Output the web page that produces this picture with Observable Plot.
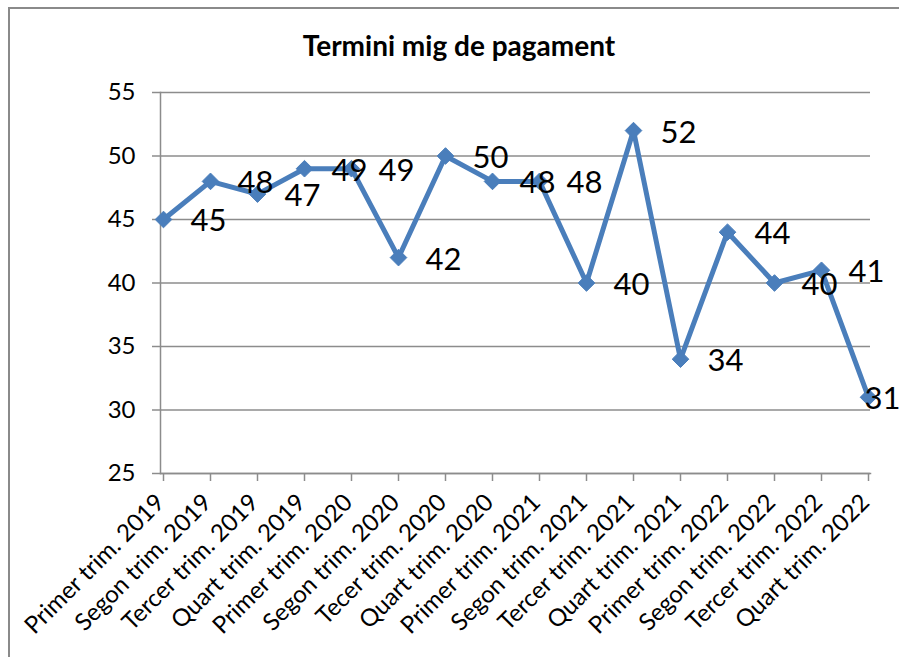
<!DOCTYPE html>
<html>
<head>
<meta charset="utf-8">
<script src="https://cdn.jsdelivr.net/npm/d3@7"></script>
<script src="https://cdn.jsdelivr.net/npm/@observablehq/plot@0.6"></script>
<style>
  html, body { margin: 0; padding: 0; background: #fff; }
  #wrap { position: relative; width: 899px; height: 657px; overflow: hidden; font-family: Lato, "Open Sans", sans-serif; }
  #frame { position: absolute; left: 8px; top: 7px; width: 960px; height: 720px; border: 2px solid #8a8a8a; box-sizing: border-box; }
  #title { position: absolute; left: 8px; top: 31px; width: 902px; text-align: center; font-size: 28px; font-weight: bold; color: #000; line-height: 28px; }
  #chart { position: absolute; left: 0; top: 0; }
</style>
</head>
<body>
<div id="wrap">
  <div id="frame"></div>
  <div id="chart"></div>
  <div id="title">Termini mig de pagament</div>
</div>
<script>
const categories = [
  "Primer trim. 2019", "Segon trim. 2019", "Tercer trim. 2019", "Quart trim. 2019",
  "Primer trim. 2020", "Segon trim. 2020", "Tecer trim. 2020", "Quart trim. 2020",
  "Primer trim. 2021", "Segon trim. 2021", "Tercer trim. 2021", "Quart trim. 2021",
  "Primer trim. 2022", "Segon trim. 2022", "Tercer trim. 2022", "Quart trim. 2022"
];
const values = [45, 48, 47, 49, 49, 42, 50, 48, 48, 40, 52, 34, 44, 40, 41, 31];
const yTicks = [25, 30, 35, 40, 45, 50, 55];

const data = categories.map((c, i) => ({cat: c, val: values[i]}));
const mainLabels = data.slice(0, -1);
const lastLabel = data.slice(-1);
const blue = "#4a7ebb";
const gray = "#8c8c8c";

const plot = Plot.plot({
  width: 899,
  height: 657,
  marginLeft: 160,
  marginRight: 29,
  marginTop: 92,
  marginBottom: 184,
  style: {fontFamily: "Lato, 'Open Sans', sans-serif", background: "transparent", overflow: "visible"},
  x: {type: "point", domain: categories, padding: 0},
  y: {domain: [25, 55]},
  marks: [
    Plot.gridY(yTicks, {stroke: gray, strokeOpacity: 1, strokeWidth: 1.5}),
    Plot.frame({anchor: "left", stroke: gray, strokeWidth: 1.5}),
    Plot.frame({anchor: "bottom", stroke: gray, strokeWidth: 1.5}),
    Plot.axisY({ticks: yTicks, tickSize: 8, tickPadding: 17, stroke: gray, strokeWidth: 1.5, fontSize: 24, fill: "#000", label: null}),
    Plot.axisX({tickSize: 8, tickFormat: () => "", stroke: gray, strokeWidth: 1.5, label: null}),
    Plot.axisX({tickSize: 0, tickPadding: 25, dx: -3, tickRotate: -45, fontSize: 24, fill: "#000", label: null}),
    Plot.line(data, {x: "cat", y: "val", stroke: blue, strokeWidth: 5, strokeLinejoin: "miter"}),
    Plot.dot(data, {x: "cat", y: "val", symbol: "diamond2", r: 7.5, fill: blue, stroke: blue, strokeWidth: 1}),
    Plot.text(mainLabels, {x: "cat", y: "val", text: d => String(d.val), dx: 27, dy: 2, textAnchor: "start", fontSize: 31, fill: "#000"}),
    Plot.text(lastLabel, {x: "cat", y: "val", text: d => String(d.val), dx: -4, dy: 2, textAnchor: "start", fontSize: 31, fill: "#000"})
  ]
});
document.getElementById("chart").appendChild(plot);
</script>
</body>
</html>
